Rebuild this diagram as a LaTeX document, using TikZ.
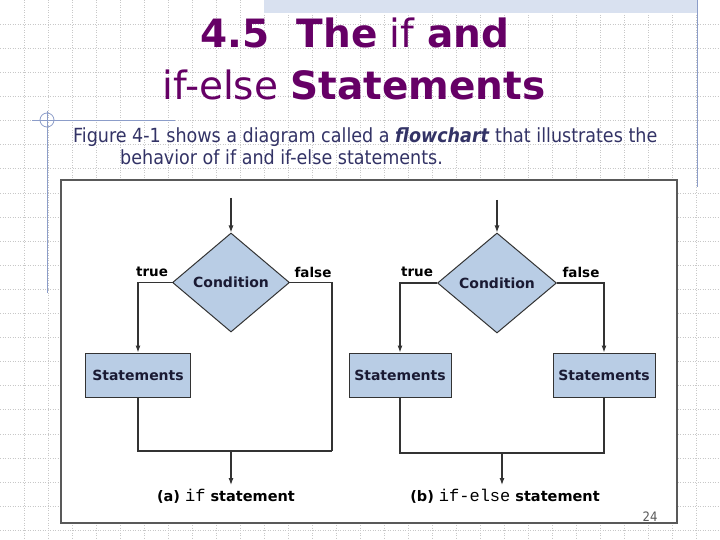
\documentclass[tikz,border=0pt]{standalone}
\usepackage{fontspec}
\setmainfont{DejaVu Sans Condensed}
\newfontfamily\diagfont{DejaVu Sans}
\newfontfamily\codefont{Liberation Mono}
\usetikzlibrary{shapes.geometric,arrows.meta}
\definecolor{titlepurple}{HTML}{660066}
\definecolor{bodyblue}{HTML}{333366}
\definecolor{boxfill}{HTML}{B9CDE5}
\definecolor{gridgray}{HTML}{C8C8C8}
\definecolor{decoblue}{HTML}{8C9DC9}
\definecolor{bandblue}{HTML}{D9E1F0}
\definecolor{linegray}{HTML}{333333}
\definecolor{framegray}{HTML}{595959}
\definecolor{labelnavy}{HTML}{1A1A33}
\tikzset{
  gridline/.style={gridgray, line width=0.5pt, dotted},
  deco/.style={decoblue, line width=0.8pt},
  flow/.style={linegray, line width=1.1pt},
  flowarrow/.style={flow, -{Latex[length=7pt,width=5pt]}},
  stmtbox/.style={draw=linegray, line width=1pt, fill=boxfill, rectangle, inner sep=0pt,
    font=\diagfont\bfseries\fontsize{14}{16}\selectfont, text=labelnavy},
  condbox/.style={draw=linegray, line width=1pt, fill=boxfill, diamond, inner sep=0pt,
    font=\diagfont\bfseries\fontsize{14}{16}\selectfont, text=labelnavy},
  branchlabel/.style={font=\diagfont\bfseries\fontsize{13.5}{15}\selectfont, text=black, inner sep=0pt},
  caption/.style={font=\diagfont\bfseries\fontsize{14.5}{16}\selectfont, text=black, inner sep=0pt},
  titletext/.style={text=titlepurple, font=\diagfont\fontsize{39}{44}\selectfont, anchor=base, inner sep=0pt},
  bodytext/.style={text=bodyblue, font=\fontsize{19.5}{22}\selectfont, anchor=base west, inner sep=0pt},
}
\newcommand{\codeword}[1]{{\codefont\mdseries\fontsize{17}{18}\selectfont #1}}
\begin{document}
\begin{tikzpicture}[x=1pt,y=-1pt]
\useasboundingbox (0,0) rectangle (720,540);
\fill[white] (0,0) rectangle (720,540);
% grid
\foreach \i in {1,...,29} \draw[gridline] (24*\i,0) -- (24*\i,540);
\foreach \j in {1,...,22} \draw[gridline] (0,24.1*\j) -- (720,24.1*\j);
% top band
\fill[bandblue] (264,0) rectangle (697,13);
% decorations
\draw[deco] (697,0) -- (697,187);
\draw[deco] (47,111) -- (47,293);
\draw[deco] (32,120) -- (175,120);
\draw[deco] (47,120) circle (7);
% title
\node[titletext] (t1) at (355,48) {\textbf{4.5\ \ The} if \textbf{and}};
\node[titletext] (t2) at (354,100) {if-else \textbf{Statements}};
% body text
\node[bodytext] (b1) at (73,143)
  {Figure 4-1 shows a diagram called a \textbf{\textit{flowchart}} that illustrates the};
\node[bodytext] (b2) at (120,165) {behavior of if and if-else statements.};
% frame
\draw[framegray, line width=2pt, fill=white] (61,180) rectangle (677,523);
% (a) if statement
\node[condbox, minimum width=117pt, minimum height=99pt] (aC) at (231,282.5) {Condition};
\node[stmtbox, minimum width=105pt, minimum height=44pt] (aS) at (138,375) {Statements};
\coordinate (aTop) at (231,198);
\coordinate (aJR) at (332,451);
\coordinate (aJM) at (231,451);
\coordinate (aEnd) at (231,485);
\draw[flowarrow] (aTop) -- (aC.north);
\draw[flowarrow] (aC.west) -| (aS.north);
\draw[flow] (aC.east) -| (aJR);
\draw[flow] (aS.south) |- (aJR);
\draw[flowarrow] (aJM) -- (aEnd);
\node[branchlabel] (aT) at (152,272) {true};
\node[branchlabel] (aF) at (313,272) {false};
\node[caption, anchor=base] (aCap) at (226,501) {(a) \codeword{if} statement};
% (b) if-else statement
\node[condbox, minimum width=119pt, minimum height=100pt] (bC) at (497,283) {Condition};
\node[stmtbox, minimum width=102pt, minimum height=44pt] (bS1) at (400,375) {Statements};
\node[stmtbox, minimum width=102pt, minimum height=44pt] (bS2) at (604,375) {Statements};
\coordinate (bTop) at (497,200);
\coordinate (bJM) at (502,453);
\coordinate (bEnd) at (502,485);
\draw[flowarrow] (bTop) -- (bC.north);
\draw[flowarrow] (bC.west) -| (bS1.north);
\draw[flowarrow] (bC.east) -| (bS2.north);
\draw[flow] (bS1.south) |- (bJM) -| (bS2.south);
\draw[flowarrow] (bJM) -- (bEnd);
\node[branchlabel] (bT) at (417,272) {true};
\node[branchlabel] (bF) at (581,272) {false};
\node[caption, anchor=base] (bCap) at (505,501) {(b) \codeword{if-else} statement};
% page number
\node[text=framegray, font=\fontsize{13}{15}\selectfont, inner sep=0pt] (pg) at (650,517) {24};
\end{tikzpicture}
\end{document}
